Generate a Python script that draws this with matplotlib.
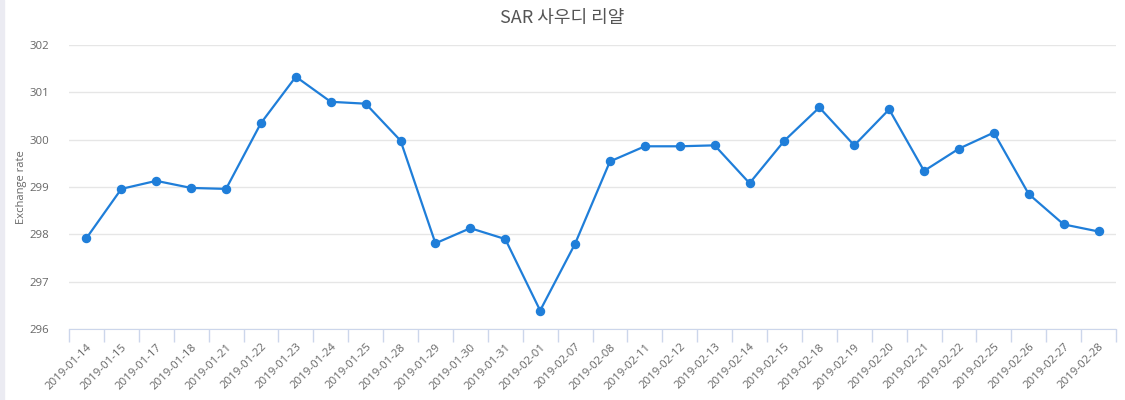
import numpy as np
import matplotlib.pyplot as plt
from matplotlib.patches import Rectangle

"SAR exchange rate line chart"

plt.rcParams['font.family'] = ['Open Sans', 'Noto Sans CJK KR', 'DejaVu Sans']

dates = ["2019-01-14", "2019-01-15", "2019-01-17", "2019-01-18", "2019-01-21",
         "2019-01-22", "2019-01-23", "2019-01-24", "2019-01-25", "2019-01-28",
         "2019-01-29", "2019-01-30", "2019-01-31", "2019-02-01", "2019-02-07",
         "2019-02-08", "2019-02-11", "2019-02-12", "2019-02-13", "2019-02-14",
         "2019-02-15", "2019-02-18", "2019-02-19", "2019-02-20", "2019-02-21",
         "2019-02-22", "2019-02-25", "2019-02-26", "2019-02-27", "2019-02-28"]
rates = [297.92, 298.96, 299.13, 298.98, 298.96,
         300.35, 301.33, 300.80, 300.76, 299.98,
         297.81, 298.13, 297.90, 296.39, 297.80,
         299.54, 299.86, 299.86, 299.88, 299.08,
         299.98, 300.68, 299.88, 300.64, 299.34,
         299.81, 300.15, 298.85, 298.21, 298.06]
y_ticks = [296, 297, 298, 299, 300, 301, 302]

fig = plt.figure(figsize=(11.25, 4.0), dpi=100)
fig.patches.append(Rectangle((0, 0), 4 / 1125, 1, transform=fig.transFigure,
                             color="#ebebf2", zorder=0))
ax = fig.add_axes([69 / 1125, 1 - 329 / 400, 1047 / 1125, 284 / 400])

x = np.arange(len(dates))
ax.plot(x, rates, color="#1f7ed9", lw=1.6, marker="o", ms=5.8, zorder=3)

ax.set_xlim(-0.5, len(dates) - 0.5)
ax.set_ylim(296, 302)
ax.set_yticks(y_ticks)
ax.set_yticklabels([str(v) for v in y_ticks], color="#666666", fontsize=8.2)
ax.tick_params(axis="y", length=0, pad=14)
ax.grid(axis="y", color="#e6e6e6", lw=1)
ax.set_axisbelow(True)

ax.set_xticks(x)
ax.set_xticklabels(dates, rotation=45, ha="right", rotation_mode="anchor",
                   color="#666666", fontsize=8.2)
ax.tick_params(axis="x", which="major", length=0, pad=9)
ax.set_xticks(np.arange(len(dates) + 1) - 0.5, minor=True)
ax.tick_params(axis="x", which="minor", length=9, color="#ccd6eb", width=1)

for s in ["top", "right", "left"]:
    ax.spines[s].set_visible(False)
ax.spines["bottom"].set_color("#ccd6eb")

ax.set_ylabel("Exchange rate", color="#666666", fontsize=8)
ax.yaxis.set_label_coords(-42 / 1047, 0.5)
fig.text(0.5, 1 - 18 / 400, "SAR 사우디 리얄", ha="center", va="center",
         fontsize=13, color="#555555", weight="medium",
         family=["Noto Sans CJK KR", "DejaVu Sans"])

fig.savefig("out.png", dpi=100)
